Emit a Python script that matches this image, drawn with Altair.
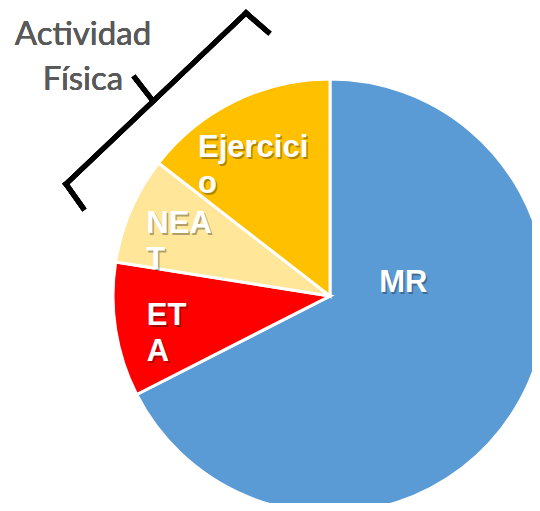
import altair as alt
import pandas as pd
import math

categorias = ["MR", "ETA", "NEAT", "Ejercicio"]
valores = [67.5, 10, 8, 14.5]
etiquetas = ["MR", "ET\nA", "NEA\nT", "Ejercici\no"]
orden = [1, 2, 3, 4]
colores = ["#5B9BD5", "#FF0000", "#FFE699", "#FFC000"]

df = pd.DataFrame({"cat": categorias, "valor": valores, "label": etiquetas, "orden": orden})

CX, CY, R = 322, 288, 217
theta_scale = alt.Scale(domain=[0, 100], range=[0, 2 * math.pi])

base = (
    alt.Chart(df)
    .transform_stack(stack="valor", groupby=[], as_=["v0", "v1"],
                     sort=[alt.SortField("orden", order="ascending")])
    .transform_calculate(mid="(datum.v0 + datum.v1) / 2")
)

arcs = base.mark_arc(radius=R, stroke="white", strokeWidth=3).encode(
    theta=alt.Theta("v0:Q", scale=theta_scale),
    theta2="v1:Q",
    color=alt.Color("cat:N", scale=alt.Scale(domain=categorias, range=colores), legend=None),
    x=alt.value(CX),
    y=alt.value(CY),
)

# per-label placement: (radius, dx, dy)
place = {
    "MR": (60, -2, -35),
    "ETA": (150, -35, 6),
    "NEAT": (150, -46, -3),
    "Ejercicio": (150, -66, -4),
}

layers = [arcs]
for cat in categorias:
    r, dx, dy = place[cat]
    for shadow in (True, False):
        t = base.transform_filter(alt.datum.cat == cat).mark_text(
            radius=r,
            dx=dx + (1.5 if shadow else 0),
            dy=dy + (1.5 if shadow else 0),
            align="left",
            baseline="alphabetic",
            lineBreak="\n",
            lineHeight=36,
            font="Liberation Sans",
            fontWeight="bold",
            fontSize=31,
            color="black" if shadow else "white",
            opacity=0.3 if shadow else 1,
        ).encode(
            theta=alt.Theta("mid:Q", scale=theta_scale),
            text="label:N",
            x=alt.value(CX),
            y=alt.value(CY),
        )
        layers.append(t)

# bracket (annotation)
seg = dict(color="black", strokeWidth=5, strokeCap="square")
rules = [
    ((75, 200), (58, 176)),
    ((58, 176), (238, 5)),
    ((238, 5), (260, 24)),
    ((145, 93), (127, 70)),
]
for (x1, y1), (x2, y2) in rules:
    layers.append(
        alt.Chart(df).mark_rule(**seg).encode(
            x=alt.value(x1), y=alt.value(y1), x2=alt.value(x2), y2=alt.value(y2)
        )
    )

titulo = alt.Chart(df).mark_text(
    text="Actividad\nFísica",
    lineBreak="\n",
    lineHeight=45,
    align="center",
    baseline="alphabetic",
    font="Lato",
    fontSize=33,
    color="#595959",
).encode(x=alt.value(75), y=alt.value(37))
layers.append(titulo)

chart = (
    alt.layer(*layers)
    .properties(width=524, height=495, padding=0, autosize=alt.AutoSizeParams(type="none"))
    .configure_view(stroke=None)
)

chart.save("out.html", embed_options={"renderer": "svg", "actions": False})
